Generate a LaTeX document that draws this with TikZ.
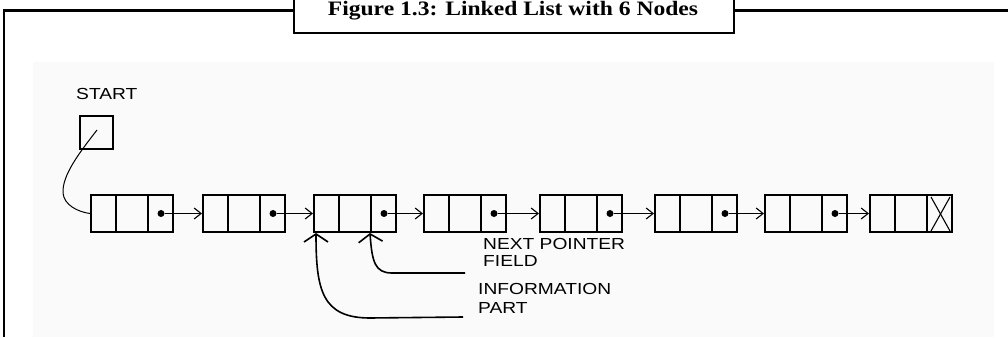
\documentclass[tikz,border=0pt]{standalone}
\usepackage{fontspec}
\newfontfamily\lblfont[FakeStretch=1.2]{Liberation Sans}
\newfontfamily\ttlfont[FakeStretch=1.15]{Liberation Serif}
\usetikzlibrary{arrows.meta,calc}
\tikzset{
  cellbox/.style={draw, line width=2pt, minimum width=82pt, minimum height=37pt, inner sep=0pt, anchor=north west},
  divider/.style={line width=1.4pt},
  ptr/.style={line width=1.1pt, -{Straight Barb[length=7pt,width=11pt]}},
  bigptr/.style={line width=1.6pt, -{Straight Barb[length=8pt,width=24pt]}},
  lbl/.style={font=\lblfont\fontsize{16}{17}\selectfont, anchor=base west, align=left, inner sep=0pt},
  frameline/.style={line width=2.5pt},
  dotnode/.style={circle, fill, inner sep=0pt, minimum size=7pt},
}
\begin{document}
\begin{tikzpicture}[x=1pt,y=-1pt]
\useasboundingbox (0,0) rectangle (1008,337);
\fill[black!2] (33,62) rectangle (994,337);
% frame
\draw[frameline] (4,337) -- (4,10.5) -- (1010,10.5);
\node[draw, line width=2pt, fill=white, minimum width=440pt, minimum height=44pt, inner sep=0pt, anchor=south west] (titlebox) at (293,34) {};
\node[font=\ttlfont\bfseries\fontsize{20.5}{24}\selectfont, anchor=base, inner sep=0pt] (titletext) at (513,16) {Figure 1.3: Linked List with 6 Nodes};
% list nodes
\foreach \i/\x in {1/90,2/202,3/313,4/423,5/539,6/654,7/764,8/869} {
  \node[cellbox] (n\i) at (\x,194) {};
  \draw[divider] ([xshift=26pt]n\i.north west) -- ([xshift=26pt]n\i.south west);
  \draw[divider] ([xshift=-26pt]n\i.north east) -- ([xshift=-26pt]n\i.south east);
}
\foreach \i/\j in {1/2,2/3,3/4,4/5,5/6,6/7,7/8} {
  \node[dotnode] (d\i) at ([xshift=-13pt]n\i.east) {};
  \draw[ptr] (d\i) -- (n\j.west);
}
% null marker
\draw[line width=1.1pt] ($(n8.north east)+(-22,3)$) -- ($(n8.south east)+(-3,-2)$);
\draw[line width=1.1pt] ($(n8.north east)+(-3,3)$) -- ($(n8.south east)+(-22,-2)$);
% start
\node[lbl] (st) at (76,99) {START};
\node[draw, line width=1.3pt, minimum size=33pt, inner sep=0pt] (sb) at (96.5,132.5) {};
\coordinate (sp) at (97,130);
\draw[line width=1pt] (sp) .. controls (80,152) and (62,175) .. (63,193) .. controls (64,205) and (78,212) .. (n1.west);
% labels with arrows
\node[lbl] (npl) at (483,266) {NEXT POINTER\\FIELD};
\node[lbl, font=\lblfont\fontsize{16}{19}\selectfont] (ipl) at (478,313) {INFORMATION\\PART};
\coordinate (npa) at (465,273);
\coordinate (ipa) at (463,317);
\draw[bigptr] (npa) -- (392,273) .. controls (375,273) and (372,262) .. ($(n3.south west)+(57,0)$);
\draw[bigptr] (ipa) -- (370,318) .. controls (322,318) and (316,290) .. ($(n3.south west)+(3,0)$);
\end{tikzpicture}
\end{document}
